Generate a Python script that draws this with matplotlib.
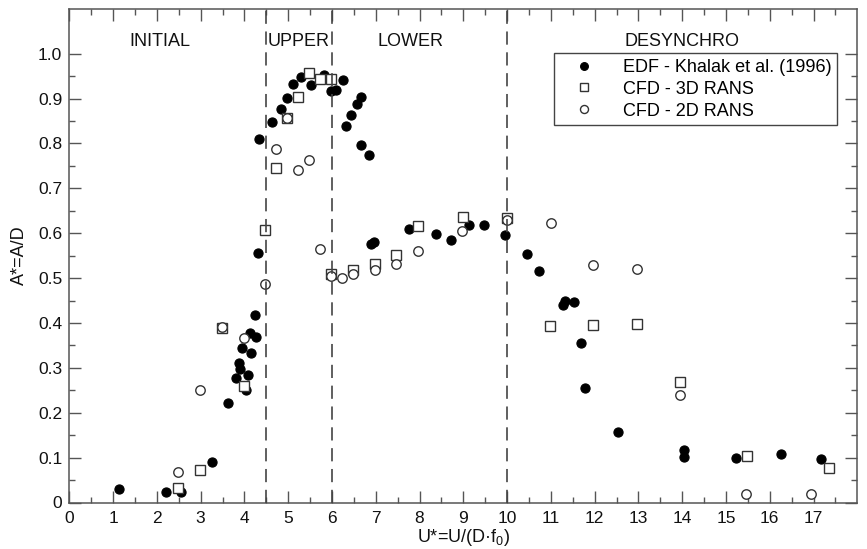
import matplotlib
matplotlib.use("Agg")
import matplotlib.pyplot as plt
from matplotlib.ticker import FixedLocator

plt.rcParams['font.family'] = ['Liberation Sans', 'DejaVu Sans']
plt.rcParams['mathtext.fontset'] = 'custom'
plt.rcParams['mathtext.rm'] = 'Liberation Sans'
plt.rcParams['mathtext.it'] = 'Liberation Sans:italic'
plt.rcParams['lines.scale_dashes'] = False

# EDF - Khalak et al. (1996) (filled circles)
edf_x = [1.14, 2.20, 2.56, 3.27, 3.63, 3.80, 3.87, 3.91, 3.95, 4.04, 4.08, 4.13, 4.15,
         4.24, 4.27, 4.31, 4.34, 4.63, 4.84, 4.97, 5.11, 5.29, 5.51, 5.81, 5.98, 6.09,
         6.26, 6.31, 6.43, 6.57, 6.67, 6.67, 6.85, 6.89, 6.96, 7.76, 8.37, 8.73, 9.14,
         9.47, 9.96, 10.46, 10.74, 11.28, 11.33, 11.54, 11.69, 11.79, 12.54, 14.05,
         14.05, 15.24, 16.26, 17.18]
edf_y = [0.031, 0.024, 0.023, 0.090, 0.222, 0.278, 0.310, 0.297, 0.345, 0.251, 0.285,
         0.377, 0.332, 0.417, 0.368, 0.555, 0.809, 0.847, 0.876, 0.901, 0.933, 0.949,
         0.931, 0.953, 0.916, 0.919, 0.942, 0.838, 0.864, 0.887, 0.904, 0.797, 0.775,
         0.576, 0.581, 0.610, 0.598, 0.584, 0.618, 0.618, 0.596, 0.553, 0.515, 0.439,
         0.448, 0.447, 0.355, 0.256, 0.157, 0.116, 0.101, 0.100, 0.107, 0.096]

# CFD - 3D RANS (open squares)
r3d_x = [2.48, 2.99, 3.48, 3.98, 4.48, 4.73, 4.97, 5.23, 5.48, 5.73, 5.98, 5.98, 6.47,
         6.98, 7.47, 7.97, 9.0, 10.0, 10.97, 11.97, 12.97, 13.96, 15.47, 17.35]
r3d_y = [0.032, 0.072, 0.388, 0.259, 0.607, 0.746, 0.857, 0.903, 0.956, 0.944, 0.944,
         0.510, 0.518, 0.531, 0.551, 0.616, 0.636, 0.635, 0.393, 0.396, 0.398, 0.268,
         0.104, 0.076]

# CFD - 2D RANS (open circles)
r2d_x = [2.48, 2.98, 3.48, 3.98, 4.48, 4.73, 4.97, 5.23, 5.47, 5.73, 5.98, 6.23, 6.47,
         6.98, 7.47, 7.97, 8.96, 10.0, 11.0, 11.97, 12.97, 13.96, 15.45, 16.95]
r2d_y = [0.067, 0.250, 0.390, 0.367, 0.486, 0.787, 0.857, 0.741, 0.764, 0.564, 0.505,
         0.501, 0.510, 0.518, 0.531, 0.560, 0.605, 0.630, 0.622, 0.530, 0.520, 0.240,
         0.020, 0.020]

series_labels = ['EDF - Khalak et al. (1996)', 'CFD - 3D RANS', 'CFD - 2D RANS']
region_x = [4.5, 6.0, 10.0]
region_names = ['INITIAL', 'UPPER', 'LOWER', 'DESYNCHRO']
region_label_x = [2.07, 5.23, 7.8, 14.0]
x_ticks = list(range(0, 18))
y_ticks = [0.0, 0.1, 0.2, 0.3, 0.4, 0.5, 0.6, 0.7, 0.8, 0.9, 1.0]
y_tick_labels = ['0', '0.1', '0.2', '0.3', '0.4', '0.5', '0.6', '0.7', '0.8', '0.9', '1.0']

W, H = 867, 549
fig = plt.figure(figsize=(W / 100, H / 100), dpi=100)
ax = fig.add_axes([69.3 / W, 46.5 / H, 788 / W, 493.7 / H])

edge = '#333333'
ax.plot(edf_x, edf_y, linestyle='none', marker='o', markersize=6.6,
        markerfacecolor='black', markeredgecolor='black', markeredgewidth=0.8,
        label=series_labels[0], zorder=3)
ax.plot(r3d_x, r3d_y, linestyle='none', marker='s', markersize=7.2,
        markerfacecolor='white', markeredgecolor=edge, markeredgewidth=1.0,
        label=series_labels[1], zorder=4)
ax.plot(r2d_x, r2d_y, linestyle='none', marker='o', markersize=6.8,
        markerfacecolor='white', markeredgecolor=edge, markeredgewidth=1.0,
        label=series_labels[2], zorder=5)

for xv in region_x:
    ax.axvline(xv, color='#444444', linewidth=1.2, dashes=(9.5, 5.5), zorder=6)

for name, xv in zip(region_names, region_label_x):
    ax.text(xv, 1.027, name, ha='center', va='center', fontsize=13, color='#111111')

ax.set_xlim(0, 18)
ax.set_ylim(0, 1.1)
ax.xaxis.set_major_locator(FixedLocator(x_ticks))
ax.set_xticklabels([str(t) for t in x_ticks])
ax.xaxis.set_minor_locator(FixedLocator([t + 0.5 for t in x_ticks]))
ax.yaxis.set_major_locator(FixedLocator(y_ticks))
ax.set_yticklabels(y_tick_labels)
ax.yaxis.set_minor_locator(FixedLocator([t + 0.05 for t in y_ticks[:-1]]))

spine_c = '#555555'
for s in ax.spines.values():
    s.set_color(spine_c)
    s.set_linewidth(1.1)
ax.tick_params(which='both', direction='in', top=True, right=True, colors=spine_c,
               width=1.0, labelcolor='#111111', labelsize=12.5)
ax.tick_params(which='major', length=8.6)
ax.tick_params(which='minor', length=4.3)
ax.tick_params(axis='x', pad=6.0)
ax.tick_params(axis='y', pad=5.0)

ax.set_xlabel('U*=U/(D·f$_\\mathrm{0}$)', fontsize=13, labelpad=1, color='#111111')
ax.set_ylabel('A*=A/D', fontsize=13, color='#111111')
ax.yaxis.set_label_coords(-0.053, 0.5)

leg = ax.legend(loc='upper right', bbox_to_anchor=(0.974, 0.9095), borderaxespad=0,
                fontsize=13, frameon=True, fancybox=False, framealpha=1,
                edgecolor='#444444', markerscale=0.85, borderpad=0.3,
                labelspacing=0.27, handlelength=2.7, handletextpad=0.8)
leg.get_frame().set_linewidth(1.0)

fig.savefig('out.png', dpi=100)
